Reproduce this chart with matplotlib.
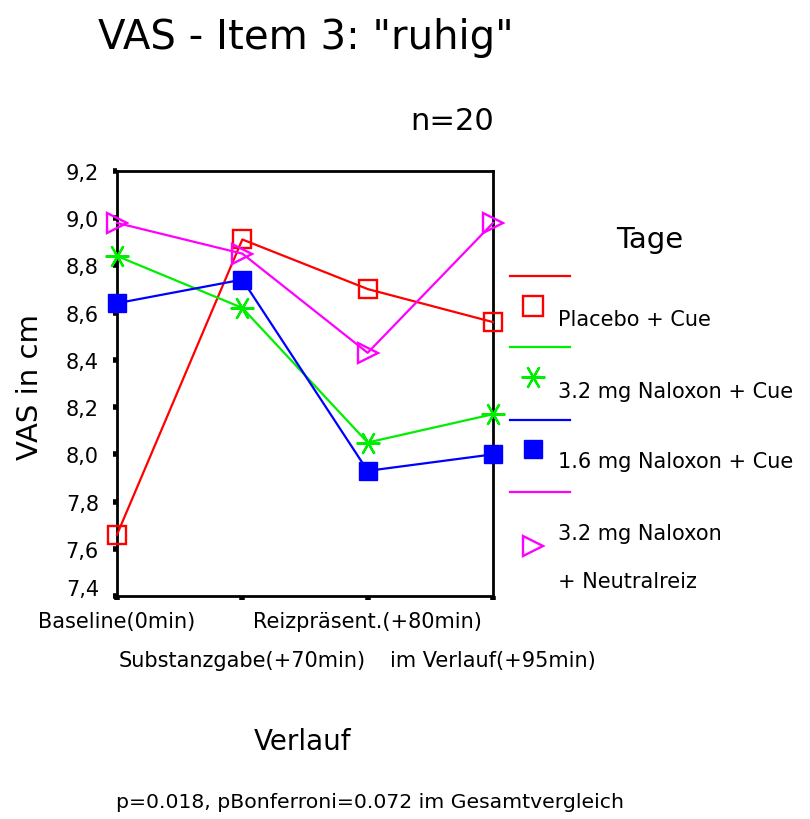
import matplotlib.pyplot as plt
from matplotlib.lines import Line2D
from matplotlib.transforms import offset_copy

plt.rcParams['font.family'] = ['DejaVu Sans']

# Verlauf (time points)
zeitpunkte = ['Baseline(0min)', 'Substanzgabe(+70min)', 'Reizpräsent.(+80min)', 'im Verlauf(+95min)']

# mean VAS values per group
placebo_cue = [7.66, 8.91, 8.70, 8.56]
nal32_cue = [8.84, 8.62, 8.05, 8.17]
nal16_cue = [8.64, 8.74, 7.93, 8.00]
nal32_neutral = [8.98, 8.85, 8.43, 8.98]

gruppen = ['Placebo + Cue', '3.2 mg Naloxon + Cue', '1.6 mg Naloxon + Cue', '3.2 mg Naloxon\n+ Neutralreiz']

W, H = 810, 820
fig = plt.figure(figsize=(W / 100, H / 100), dpi=100)

def px(x0, y0, x1, y1):
    # pixel box -> figure fraction
    return [x0 / W, 1 - y1 / H, (x1 - x0) / W, (y1 - y0) / H]

ax = fig.add_axes(px(117, 172, 493, 597))

star = (6, 2, 90)
styles = [
    dict(color='#ff0000', marker='s', mfc='none', ms=13.5, mew=1.7),
    dict(color='#00ee00', marker=star, ms=17, mew=1.6),
    dict(color='#0000ff', marker='s', mfc='#0000ff', ms=12.5, mew=1),
    dict(color='#ff00ff', marker='>', mfc='none', ms=14.5, mew=1.7),
]
serien = [placebo_cue, nal32_cue, nal16_cue, nal32_neutral]
xs = list(range(len(zeitpunkte)))
for vals, st in zip(serien, styles):
    ax.plot(xs, vals, lw=1.6, clip_on=False, zorder=3, **st)

ax.set_xlim(0, 3)
ax.set_ylim(7.4, 9.2)
ax.set_yticks([7.4 + 0.2 * i for i in range(10)])
ax.set_yticklabels([f'{7.4 + 0.2 * i:.1f}'.replace('.', ',') for i in range(10)], fontsize=15)
ax.set_xticks(xs)
ax.set_xticklabels([])
for i, lab in enumerate(zeitpunkte):
    ax.text(i, -0.059 if i % 2 == 0 else -0.15, lab, transform=ax.get_xaxis_transform(),
            ha='center', va='center', fontsize=15)
ax.tick_params(direction='out', length=3, width=4, color='black', pad=10)
for s in ax.spines.values():
    s.set_linewidth(2)
# lowest label sits a bit higher, as in the original
lab0 = ax.get_yticklabels()[0]
lab0.set_transform(offset_copy(lab0.get_transform(), fig=fig, x=0, y=9, units='dots'))

fig.text(30 / W, 1 - 387 / H, 'VAS in cm', rotation=90, ha='center', va='center', fontsize=21)
fig.text(306 / W, 1 - 38 / H, 'VAS - Item 3: "ruhig"', ha='center', va='center', fontsize=29)
fig.text(452 / W, 1 - 122 / H, 'n=20', ha='center', va='center', fontsize=22)
fig.text(303 / W, 1 - 742 / H, 'Verlauf', ha='center', va='center', fontsize=20)
fig.text(370 / W, 1 - 803 / H, 'p=0.018, pBonferroni=0.072 im Gesamtvergleich',
         ha='center', va='center', fontsize=14.7)

# legend drawn by hand (SPSS style)
lg = fig.add_axes([0, 0, 1, 1])
lg.set_xlim(0, W)
lg.set_ylim(H, 0)
lg.axis('off')
lg.text(650, 240, 'Tage', ha='center', va='center', fontsize=21)
line_y = [277, 348, 421, 493]
mark_y = [307, 378, 450, 547]
text_y = [320, 392, 462, 558]
leg_ms = [14, 17, 13, 15]
for st, ly, my, ty, name, ms in zip(styles, line_y, mark_y, text_y, gruppen, leg_ms):
    lg.add_line(Line2D([510, 570], [ly, ly], color=st['color'], lw=1.6))
    mst = dict(st, ms=ms)
    lg.add_line(Line2D([533], [my], linestyle='none', **mst))
    lg.text(558, ty, name, ha='left', va='center', fontsize=15, linespacing=2.7)

fig.savefig('out.png', dpi=100)
